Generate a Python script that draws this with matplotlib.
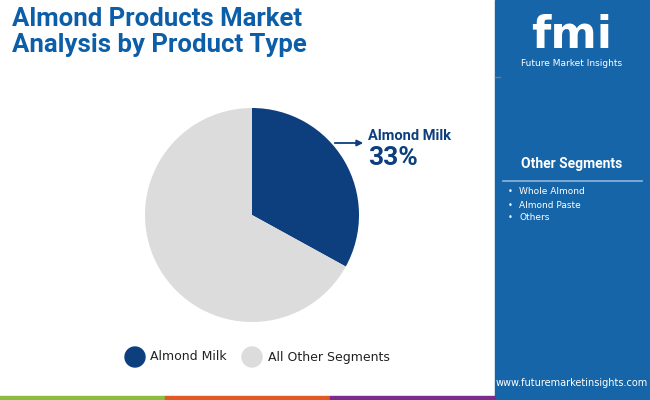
import matplotlib
matplotlib.use("Agg")
import matplotlib.pyplot as plt
from matplotlib.patches import Rectangle

labels = ["Almond Milk", "All Other Segments"]
values = [33, 67]
colors = ["#0d3f7e", "#dcdcdc"]
others = ["Whole Almond", "Almond Paste", "Others"]

W, H = 650, 400
fig = plt.figure(figsize=(6.5, 4.0), dpi=100)
fig.patch.set_facecolor("white")
bg = fig.add_axes([0, 0, 1, 1]); bg.set_xlim(0, W); bg.set_ylim(H, 0); bg.axis("off")

# right panel
bg.add_patch(Rectangle((495, 0), 155, 400, color="#1565a8"))
bg.plot([495, 500], [77, 77], color="#777777", lw=1)
# bottom stripes
for x0, c in [(0, "#8bbd3f"), (165, "#e05a26"), (330, "#7b2d8e")]:
    bg.add_patch(Rectangle((x0, 396), 165, 4, color=c))

bg.text(12, 7, "Almond Products Market\nAnalysis by Product Type", fontsize=18.5, fontweight="bold",
        color="#0d5ea8", va="top", ha="left", family="Roboto", linespacing=1.1)

bg.text(572, 36, "fmi", fontsize=32, fontweight="bold", color="white", ha="center", va="center", family="DejaVu Sans")
bg.text(572, 64, "Future Market Insights", fontsize=6.5, color="white", ha="center", va="center")
bg.text(572, 164, "Other Segments", fontsize=10, fontweight="bold", color="white", ha="center", va="center", family="Roboto")
bg.plot([503, 642], [181, 181], color="#8fb6dc", lw=1.2)
for i, o in enumerate(others):
    y = 192 + i * 13
    bg.text(508, y, "•", fontsize=6, color="white", va="center")
    bg.text(519, y, o, fontsize=6.5, color="white", va="center")
bg.text(572, 383, "www.futuremarketinsights.com", fontsize=7, color="white", ha="center", va="center")

# pie
cx, cy, r = 252, 215, 107
ax = fig.add_axes([(cx - r) / W, 1 - (cy + r) / H, 2 * r / W, 2 * r / H])
ax.pie(values, colors=colors, startangle=90, counterclock=False, radius=1,
       wedgeprops=dict(linewidth=0))
ax.set_aspect("auto")
ax.set_xlim(-1, 1); ax.set_ylim(-1, 1)

bg.annotate("", xy=(366, 143), xytext=(332, 143),
            arrowprops=dict(arrowstyle="-|>", color="#0d3f7e", lw=1.3, mutation_scale=9))
bg.text(368, 136, "Almond Milk", fontsize=10.5, fontweight="bold", color="#0d3f7e", va="center", family="Roboto")
bg.text(368, 158, "33%", fontsize=19, fontweight="bold", color="#0d3f7e", va="center", family="Roboto")

# legend
bg.add_patch(plt.Circle((135, 357), 10, color=colors[0]))
bg.text(150, 357, labels[0], fontsize=9, color="#222222", va="center")
bg.add_patch(plt.Circle((252, 357), 10, color=colors[1]))
bg.text(268, 357, labels[1], fontsize=9, color="#222222", va="center")

fig.savefig("out.png", dpi=100)
